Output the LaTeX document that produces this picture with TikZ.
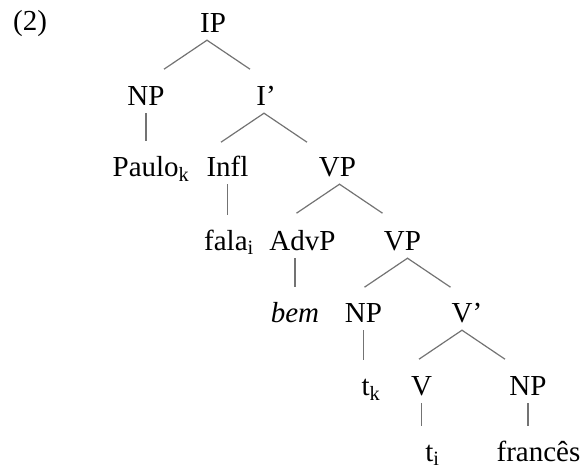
\documentclass[tikz,border=0pt]{standalone}
\usepackage{fontspec}
\setmainfont{Liberation Serif}

\begin{document}
\begin{tikzpicture}[
        x=1pt, y=1pt,
        cat/.style={anchor=base, inner xsep=0pt, inner ysep=8pt, text height=27pt, text depth=0pt, font=\fontsize{29pt}{34pt}\selectfont},
        branch/.style={draw=black!55, line width=1.2pt}
    ]
        \useasboundingbox (0,0) rectangle (584,-472);

        % numéro de l'exemple
        \node[anchor=base west, inner sep=0pt, font=\fontsize{29pt}{34pt}\selectfont] (ex) at (13,-30) {(2)};

        % nœuds: nom/texte/x/ligne de base
        \foreach \name/\txt/\x/\y in {
            IP/IP/213/32,
            NPa/NP/146/105, Ibar/I’/266/105,
            Paulo/Paulo\textsubscript{k}/151/176, Infl/Infl/227.5/176, VPa/VP/337.5/176,
            fala/fala\textsubscript{i}/229/250, AdvP/AdvP/302.5/250, VPb/VP/402.5/250,
            bem/\textit{bem}/295/322, NPb/NP/363.5/322, Vbar/V’/467/322,
            tk/t\textsubscript{k}/371/395, V/V/421.5/395, NPc/NP/528/395,
            ti/t\textsubscript{i}/432.5/461, frances/francês/538.5/461
        } {
            \node[cat] (\name) at (\x,-\y) {\txt};
        }

        % branches binaires
        \foreach \p/\dx in {IP/-6, Ibar/-2, VPa/2, VPb/5, Vbar/-5} {
            \draw[branch] ([shift={(\dx-43,-29)}]\p.south) -- ([xshift=\dx]\p.south) -- ([shift={(\dx+43,-29)}]\p.south);
        }

        % branches unaires
        \foreach \a/\b in {NPa/Paulo, Infl/fala, NPb/tk, V/ti, NPc/frances} {
            \draw[branch] (\a.south) -- (\a.south |- \b.north);
        }
        \draw[branch] (bem.north |- AdvP.south) -- (bem.north);

    \end{tikzpicture}
\end{document}
